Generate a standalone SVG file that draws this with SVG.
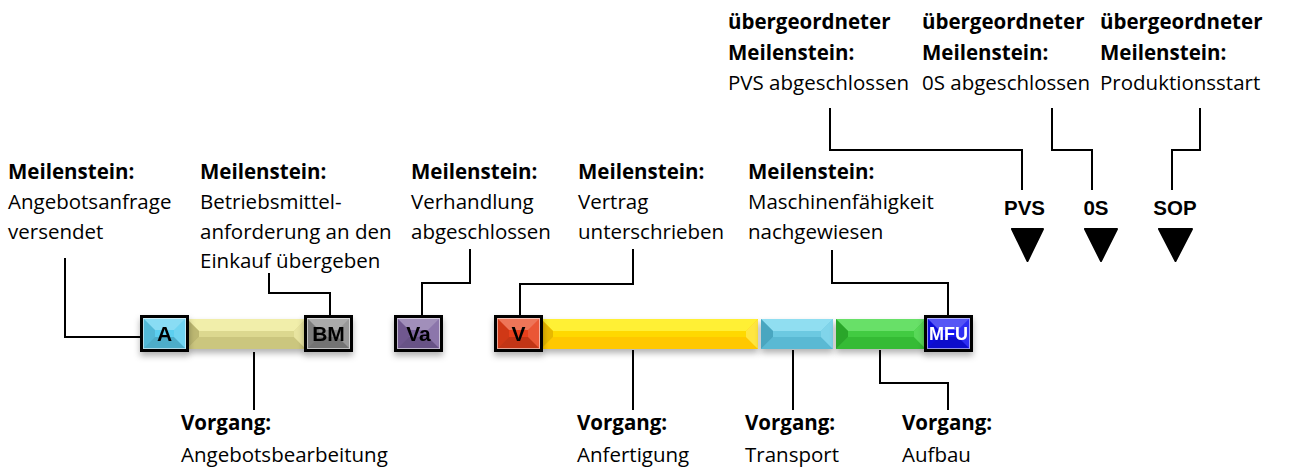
<svg xmlns="http://www.w3.org/2000/svg" xmlns:xlink="http://www.w3.org/1999/xlink" width="1289" height="468" viewBox="0 0 1289 468">
<defs>
<style>
.t{font-family:"Open Sans","Noto Sans",sans-serif;font-size:20.5px;fill:#000}
.b{font-weight:700}
.lbl{font-family:"Liberation Sans",Arial,sans-serif;font-weight:700;font-size:21px;text-anchor:middle;fill:#000}
.ms{font-family:"Liberation Sans",Arial,sans-serif;font-weight:700;font-size:20.5px;text-anchor:middle;fill:#000}
.c{fill:none;stroke:#000;stroke-width:2}
.bx{fill:none;stroke:#000;stroke-width:3}
.in{fill:none;stroke:#fff;stroke-opacity:.55;stroke-width:1}
.tri{fill:#000;stroke:#000;stroke-width:2;stroke-linejoin:round}
</style>
<filter id="sh" x="-20%" y="-30%" width="140%" height="190%">
<feDropShadow dx="0" dy="4" stdDeviation="3" flood-color="#000" flood-opacity="0.3"/>
</filter>
<g id="bev">
<polygon points="0,0 43,0 31,12 12,12" fill="#fff" fill-opacity="0.28"/>
<polygon points="0,31 43,31 31,19 12,19" fill="#000" fill-opacity="0.16"/>
<polygon points="0,0 12,12 12,19 0,31" fill="#000" fill-opacity="0.1"/>
<polygon points="43,0 31,12 31,19 43,31" fill="#fff" fill-opacity="0.12"/>
</g>
</defs>
<rect width="1289" height="468" fill="#fff"/>

<g id="connectors">
<polyline class="c" points="140,337 65,337 65,258"/>
<polyline class="c" points="330,315 330,293 269,293 269,273"/>
<polyline class="c" points="422,315 422,283 470,283 470,249"/>
<polyline class="c" points="520,315 520,284 633,284 633,249"/>
<polyline class="c" points="948,315 948,283 832,283 832,250"/>
<polyline class="c" points="254,352 254,410"/>
<polyline class="c" points="633,350 633,410"/>
<polyline class="c" points="793,350 793,410"/>
<polyline class="c" points="880,350 880,383 948,383 948,410"/>
<polyline class="c" points="830,108 830,150 1022,150 1022,190"/>
<polyline class="c" points="1052,108 1052,150 1092,150 1092,190"/>
<polyline class="c" points="1200,108 1200,150 1172,150 1172,190"/>
</g>

<g id="bar-angebotsbearbeitung" filter="url(#sh)">
<rect x="187" y="319" width="119" height="30" fill="#dcd88f"/>
<polygon points="187,319 306,319 294,331 199,331" fill="#f1eeaa"/>
<polygon points="187,349 306,349 294,337 199,337" fill="#cbc67e"/>
<polygon points="187,319 199,331 199,337 187,349" fill="#bdb872"/>
<polygon points="306,319 294,331 294,337 306,349" fill="#e8e4a0"/>
</g>
<g id="bar-anfertigung" filter="url(#sh)">
<rect x="541" y="319" width="217" height="30" fill="#ffd900"/>
<polygon points="541,319 758,319 746,331 553,331" fill="#fff036"/>
<polygon points="541,349 758,349 746,337 553,337" fill="#ffc800"/>
<polygon points="541,319 553,331 553,337 541,349" fill="#e8b800"/>
<polygon points="758,319 746,331 746,337 758,349" fill="#ffe640"/>
</g>
<g id="bar-transport" filter="url(#sh)">
<rect x="761" y="319" width="72" height="30" fill="#6cc9e1"/>
<polygon points="761,319 833,319 821,331 773,331" fill="#90def1"/>
<polygon points="761,349 833,349 821,337 773,337" fill="#5ab9d3"/>
<polygon points="761,319 773,331 773,337 761,349" fill="#4aa6c0"/>
<polygon points="833,319 821,331 821,337 833,349" fill="#80d4ea"/>
</g>
<g id="bar-aufbau" filter="url(#sh)">
<rect x="836" y="319" width="90" height="30" fill="#42cb42"/>
<polygon points="836,319 926,319 914,331 848,331" fill="#68e068"/>
<polygon points="836,349 926,349 914,337 848,337" fill="#34bb34"/>
<polygon points="836,319 848,331 848,337 836,349" fill="#2aa62a"/>
<polygon points="926,319 914,331 914,337 926,349" fill="#58d858"/>
</g>

<g id="node-A" filter="url(#sh)">
<rect x="143" y="318" width="43" height="31" fill="#5ccff0"/>
<use xlink:href="#bev" href="#bev" x="143" y="318"/>
<rect class="in" x="143.5" y="318.5" width="42" height="30"/>
<rect class="bx" x="141.5" y="316.5" width="46" height="34"/>
<text class="lbl" x="164.5" y="341">A</text>
</g>
<g id="node-BM" filter="url(#sh)">
<rect x="307" y="318" width="43" height="31" fill="#8a8a8a"/>
<use xlink:href="#bev" href="#bev" x="307" y="318"/>
<rect class="in" x="307.5" y="318.5" width="42" height="30"/>
<rect class="bx" x="305.5" y="316.5" width="46" height="34"/>
<text class="lbl" x="328.5" y="341">BM</text>
</g>
<g id="node-Va" filter="url(#sh)">
<rect x="397" y="318" width="43" height="31" fill="#7d64a0"/>
<use xlink:href="#bev" href="#bev" x="397" y="318"/>
<rect class="in" x="397.5" y="318.5" width="42" height="30"/>
<rect class="bx" x="395.5" y="316.5" width="46" height="34"/>
<text class="lbl" x="418.5" y="341">Va</text>
</g>
<g id="node-V" filter="url(#sh)">
<rect x="497" y="318" width="43" height="31" fill="#e8401a"/>
<use xlink:href="#bev" href="#bev" x="497" y="318"/>
<rect class="in" x="497.5" y="318.5" width="42" height="30"/>
<rect class="bx" x="495.5" y="316.5" width="46" height="34"/>
<text class="lbl" x="518.5" y="341">V</text>
</g>
<g id="node-MFU" filter="url(#sh)">
<rect x="927" y="318" width="43" height="31" fill="#1212f2"/>
<use xlink:href="#bev" href="#bev" x="927" y="318"/>
<rect class="in" x="927.5" y="318.5" width="42" height="30"/>
<rect class="bx" x="925.5" y="316.5" width="46" height="34"/>
<text class="lbl" x="948.5" y="340" style="font-size:18px;fill:#fff">MFU</text>
</g>

<g id="node-PVS">
<text class="ms" x="1024.5" y="215">PVS</text>
<polygon class="tri" points="1012,229 1043,229 1027.5,261"/>
</g>
<g id="node-0S">
<text class="ms" x="1096" y="215">0S</text>
<polygon class="tri" points="1085,229 1117,229 1101,261"/>
</g>
<g id="node-SOP">
<text class="ms" x="1175" y="215">SOP</text>
<polygon class="tri" points="1159,229 1192,229 1175.5,261"/>
</g>

<g id="label-top-PVS">
<text class="t b" x="728" y="29">übergeordneter</text>
<text class="t b" x="728" y="59.5">Meilenstein:</text>
<text class="t" x="728" y="90">PVS abgeschlossen</text>
</g>
<g id="label-top-0S">
<text class="t b" x="922" y="29">übergeordneter</text>
<text class="t b" x="922" y="59.5">Meilenstein:</text>
<text class="t" x="922" y="90">0S abgeschlossen</text>
</g>
<g id="label-top-SOP">
<text class="t b" x="1100" y="29">übergeordneter</text>
<text class="t b" x="1100" y="59.5">Meilenstein:</text>
<text class="t" x="1100" y="90">Produktionsstart</text>
</g>

<g id="label-A">
<text class="t b" x="8" y="179">Meilenstein:</text>
<text class="t" x="8" y="209">Angebotsanfrage</text>
<text class="t" x="8" y="238.5">versendet</text>
</g>
<g id="label-BM">
<text class="t b" x="200" y="179">Meilenstein:</text>
<text class="t" x="200" y="209">Betriebsmittel-</text>
<text class="t" x="200" y="238.5">anforderung an den</text>
<text class="t" x="200" y="268">Einkauf übergeben</text>
</g>
<g id="label-Va">
<text class="t b" x="411" y="179">Meilenstein:</text>
<text class="t" x="411" y="209">Verhandlung</text>
<text class="t" x="411" y="238.5">abgeschlossen</text>
</g>
<g id="label-V">
<text class="t b" x="578" y="179">Meilenstein:</text>
<text class="t" x="578" y="209">Vertrag</text>
<text class="t" x="578" y="238.5">unterschrieben</text>
</g>
<g id="label-MFU">
<text class="t b" x="748" y="179">Meilenstein:</text>
<text class="t" x="748" y="209">Maschinenfähigkeit</text>
<text class="t" x="748" y="238.5">nachgewiesen</text>
</g>

<g id="label-angebotsbearbeitung">
<text class="t b" x="181" y="430">Vorgang:</text>
<text class="t" x="181" y="462">Angebotsbearbeitung</text>
</g>
<g id="label-anfertigung">
<text class="t b" x="577" y="430">Vorgang:</text>
<text class="t" x="577" y="462">Anfertigung</text>
</g>
<g id="label-transport">
<text class="t b" x="745" y="430">Vorgang:</text>
<text class="t" x="745" y="462">Transport</text>
</g>
<g id="label-aufbau">
<text class="t b" x="902" y="430">Vorgang:</text>
<text class="t" x="902" y="462">Aufbau</text>
</g>
</svg>
